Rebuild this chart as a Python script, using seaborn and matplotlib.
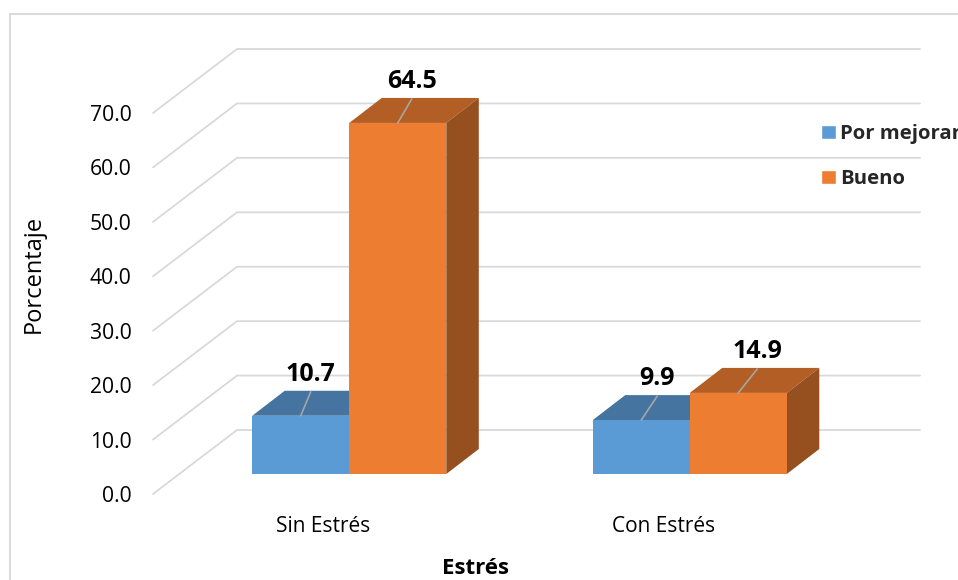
import matplotlib
matplotlib.use("Agg")
import matplotlib.pyplot as plt
import pandas as pd
import seaborn as sns
from matplotlib.lines import Line2D
from matplotlib.patches import Polygon
from matplotlib.transforms import ScaledTranslation

categories = ["Sin Estrés", "Con Estrés"]
series_names = ["Por mejorar", "Bueno"]
por_mejorar = [10.7, 9.9]
bueno = [64.5, 14.9]
y_ticks = [0, 10, 20, 30, 40, 50, 60, 70]

COLORS = ["#5B9BD5", "#ED7D31"]
TOPS = ["#44749F", "#B25E25"]
SIDES = ["#325777", "#964F1E"]
GRID = "#D9D9D9"

sns.set_theme(style="white")
plt.rcParams["font.family"] = ["Open Sans", "DejaVu Sans"]

W, H, DPI = 958, 580, 100
fig = plt.figure(figsize=(W / DPI, H / DPI), dpi=DPI)
L, R, B, T = 153, 834, 494, 113
ax = fig.add_axes([L / W, 1 - B / H, (R - L) / W, (B - T) / H])

df = pd.DataFrame({
    "Estrés": categories * 2,
    "Serie": [series_names[0]] * 2 + [series_names[1]] * 2,
    "Porcentaje": por_mejorar + bueno,
})
sns.barplot(data=df, x="Estrés", y="Porcentaje", hue="Serie", order=categories,
            hue_order=series_names, palette=COLORS, width=0.57, gap=0,
            saturation=1, errorbar=None, ax=ax, zorder=3)
ax.set_xlim(-0.5, 1.5)
ax.set_ylim(0, 70)
ax.set_yticks(y_ticks)
ax.set_yticklabels([f"{t:.1f}" for t in y_ticks])
sns.despine(ax=ax, left=True, bottom=True)
ax.tick_params(axis="y", length=0, pad=15.5, labelsize=15.2, labelcolor="black")
ax.tick_params(axis="x", length=0, pad=16, labelsize=15, labelcolor="black")

# pixel -> data scale factors for the oblique depth offsets
px_x = 2 / (R - L)
px_y = 70 / (B - T)
WALL_DX, WALL_DY = 84 * px_x, 64 * px_y      # floor depth
FLOOR_DX, FLOOR_DY = 26, 20                   # bar front plane offset, pixels
BAR_DX, BAR_DY = 32.5 * px_x, 25 * px_y       # bar depth

for t in y_ticks:
    ax.plot([-0.5, -0.5 + WALL_DX, 1.5 + WALL_DX + 2 * px_x], [t, t + WALL_DY, t + WALL_DY],
            color=GRID, lw=1.3, clip_on=False, zorder=1,
            solid_joinstyle="miter")

shift = ScaledTranslation(FLOOR_DX / DPI, FLOOR_DY / DPI, fig.dpi_scale_trans)
offset = ax.transData + shift
label_dx = [[10, 16], [14, 19]]

for s, container in enumerate(ax.containers):
    for c, bar in enumerate(container.patches):
        x0, w, h = bar.get_x(), bar.get_width(), bar.get_height()
        x1 = x0 + w
        bar.set_transform(offset)
        bar.set_clip_on(False)
        bar.set_edgecolor("none")
        z = 3 + s
        bar.set_zorder(z + 0.2)
        ax.add_patch(Polygon([(x0, h), (x1, h), (x1 + BAR_DX, h + BAR_DY), (x0 + BAR_DX, h + BAR_DY)],
                             closed=True, facecolor=TOPS[s], edgecolor="none",
                             transform=offset, clip_on=False, zorder=z))
        ax.add_patch(Polygon([(x1, 0), (x1 + BAR_DX, BAR_DY), (x1 + BAR_DX, h + BAR_DY), (x1, h)],
                             closed=True, facecolor=SIDES[s], edgecolor="none",
                             transform=offset, clip_on=False, zorder=z))
        xc = x0 + w / 2
        ax.plot([xc, xc + label_dx[s][c] * px_x], [h, h + 24 * px_y], color="#A6A6A6",
                lw=1.2, transform=offset, clip_on=False, zorder=z + 0.5)
        ax.text(xc + label_dx[s][c] * px_x, h + 41.5 * px_y, f"{h:.1f}", ha="center", va="center",
                fontsize=18, fontweight="bold", color="black",
                transform=offset, clip_on=False, zorder=8)

ax.set_xlabel("Estrés", fontsize=16, fontweight="bold", color="black", va="center")
ax.xaxis.set_label_coords((476 - L) / (R - L), (B - 569) / (B - T))
ax.set_ylabel("Porcentaje", fontsize=17, color="black", va="center")
ax.yaxis.set_label_coords((34 - L) / (R - L), (B - 274) / (B - T))

handles, labels = ax.get_legend_handles_labels()
ax.legend(handles, labels, loc="upper left", frameon=False,
          prop={"weight": "bold", "size": 14.6}, borderpad=0, borderaxespad=0,
          handlelength=0.72, handleheight=0.72, handletextpad=0.22, labelspacing=1.23,
          bbox_to_anchor=(821 / W, 1 - 124 / H), bbox_transform=fig.transFigure)

fig.add_artist(Line2D([10 / W, 10 / W, 1], [0, 1 - 14 / H, 1 - 14 / H], color=GRID, lw=1.4,
                      transform=fig.transFigure, solid_joinstyle="miter"))

fig.savefig("out.png", dpi=DPI)
